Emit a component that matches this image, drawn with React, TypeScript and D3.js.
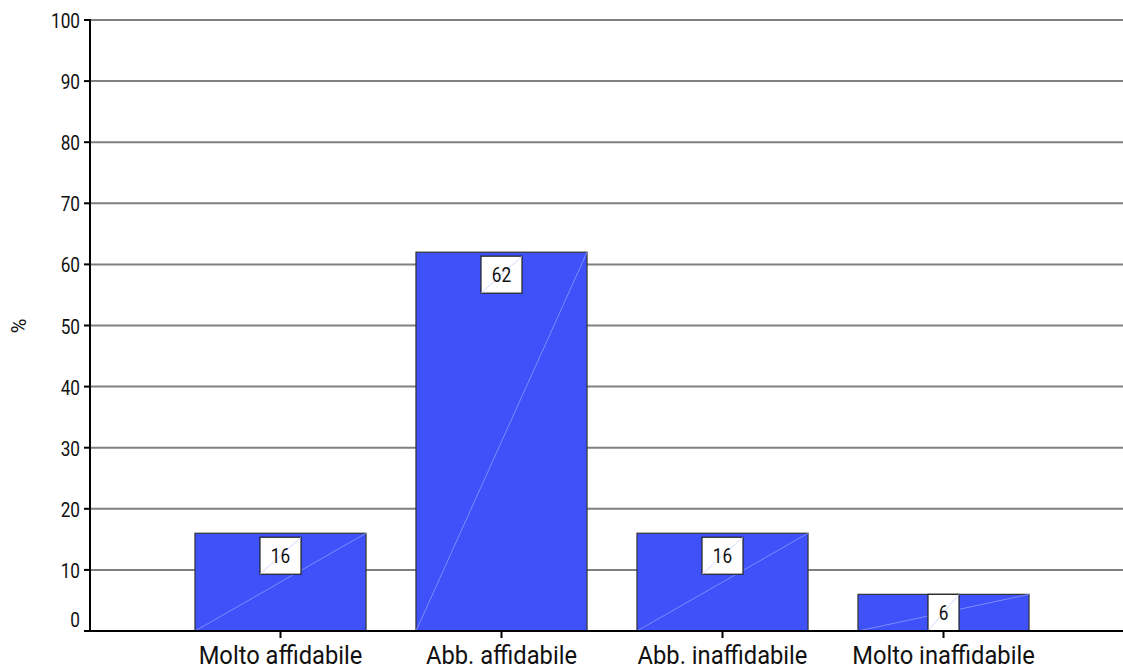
import React from "react";
import * as d3 from "d3";

const categories = ["Molto affidabile", "Abb. affidabile", "Abb. inaffidabile", "Molto inaffidabile"];
const values = [16, 62, 16, 6];
const yTicks = [0, 10, 20, 30, 40, 50, 60, 70, 80, 90, 100];

const W = 1123;
const H = 669;
const FONT = "Roboto, 'Noto Sans', Arial, sans-serif";
const SX = 0.82;

function Narrow({ x, y, anchor, size, children, sx = SX }: any) {
  return (
    <g transform={`translate(${x},${y}) scale(${sx},1)`}>
      <text x={0} y={0} textAnchor={anchor} fontFamily={FONT} fontSize={size} fill="#111">
        {children}
      </text>
    </g>
  );
}

export default function App() {
  const x = d3.scaleBand<string>().domain(categories).range([170, 1054]).paddingInner(0.226).paddingOuter(0.113);
  const y = d3.scaleLinear().domain([0, 100]).range([631, 20]);
  const axisX = 90;
  const y0 = y(0);

  return (
    <svg width={W} height={H} style={{ position: "absolute", left: 0, top: 0, background: "#fff" }}>
      {yTicks.filter((t) => t > 0).map((t) => (
        <line key={"g" + t} x1={axisX} x2={W} y1={y(t)} y2={y(t)} stroke="#808080" strokeWidth={2} />
      ))}
      {categories.map((c, i) => {
        const bx = x(c)!;
        const bw = x.bandwidth();
        const top = y(values[i]);
        return (
          <g key={c}>
            <rect x={bx} y={top} width={bw} height={y0 - top} fill="#3F51F8" stroke="#333" strokeWidth={1.2} />
            <line x1={bx} y1={y0} x2={bx + bw} y2={top} stroke="#8C9BFF" strokeWidth={0.8} />
          </g>
        );
      })}
      {categories.map((c, i) => {
        const cx = x(c)! + x.bandwidth() / 2;
        const top = y(values[i]);
        const label = String(values[i]);
        const bw = label.length > 1 ? 41 : 31;
        const bh = 37;
        const by = Math.max(Math.min(top + 4, y0 - bh), top);
        const h = Math.min(bh, y0 - by);
        return (
          <g key={"l" + c}>
            <rect x={cx - bw / 2} y={by} width={bw} height={h} fill="#fff" stroke="#222" strokeWidth={1.2} />
            <line x1={cx - bw / 2} y1={by + h} x2={cx + bw / 2} y2={by} stroke="#C8CEFF" strokeWidth={0.8} />
            <Narrow x={cx} y={by + 26} anchor="middle" size={21}>
              {label}
            </Narrow>
          </g>
        );
      })}
      <line x1={axisX} x2={axisX} y1={y(100) - 1} y2={y0 + 1} stroke="#000" strokeWidth={2} />
      {yTicks.map((t) => (
        <g key={"t" + t}>
          <line x1={axisX - 6} x2={axisX} y1={y(t)} y2={y(t)} stroke="#000" strokeWidth={2} />
          <Narrow x={axisX - 10} y={y(t) + (t === 0 ? -4 : 8)} anchor="end" size={21}>
            {t}
          </Narrow>
        </g>
      ))}
      <line x1={axisX - 6} x2={W} y1={y0} y2={y0} stroke="#000" strokeWidth={2} />
      {categories.map((c) => {
        const cx = x(c)! + x.bandwidth() / 2;
        return (
          <g key={"x" + c}>
            <line x1={cx} x2={cx} y1={y0} y2={y0 + 7} stroke="#000" strokeWidth={2} />
            <Narrow x={cx} y={664} anchor="middle" size={25.5} sx={0.93}>
              {c}
            </Narrow>
          </g>
        );
      })}
      <g transform={`translate(26, 326) rotate(-90)`}>
        <text x={0} y={0} textAnchor="middle" fontFamily={FONT} fontSize={20} fill="#111">
          %
        </text>
      </g>
    </svg>
  );
}
